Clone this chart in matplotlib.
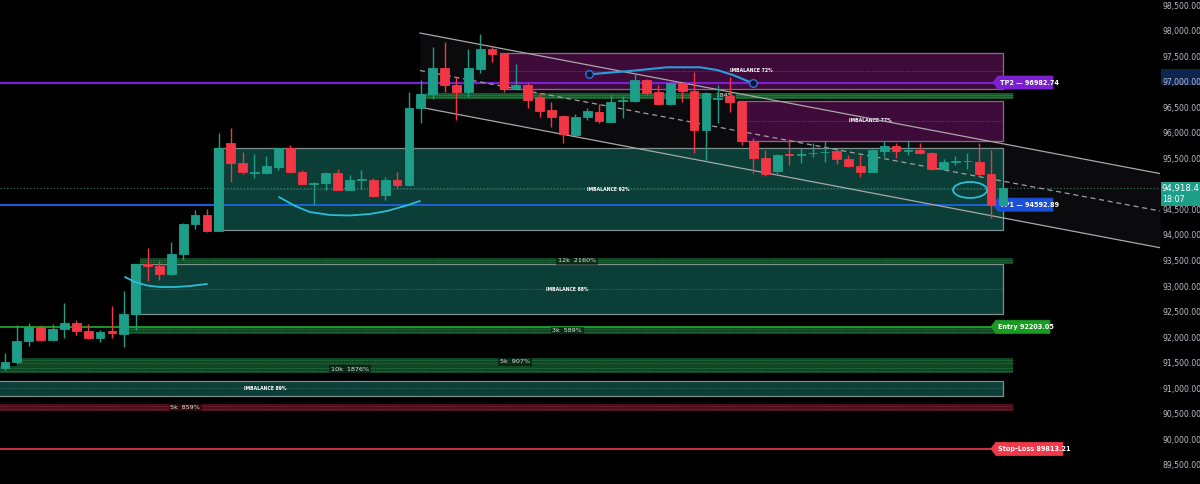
import matplotlib
matplotlib.use("Agg")
import matplotlib.pyplot as plt
from matplotlib.patches import Rectangle, Ellipse, Polygon
import numpy as np

# ---------------- data ----------------
opens = [91400, 91510, 91920, 92200, 91940, 92160, 92280, 92120, 91990, 92120,
         92060, 92450, 93440, 93390, 93230, 93630, 94220, 94400, 94080, 95790,
         95410, 95220, 95220, 95320, 95700, 95240, 95000, 95010, 95210, 94880,
         95080, 95080, 94780, 95070, 94980, 96480, 96750, 97260, 96930, 96790,
         97250, 97640, 97540, 96870, 96930, 96690, 96440, 96330, 95960, 96300,
         96410, 96220, 96630, 96620, 97030, 96800, 96560, 96970, 96820, 96050,
         96670, 96720, 96610, 95830, 95510, 95260, 95580, 95570, 95600, 95620,
         95650, 95490, 95350, 95240, 95640, 95740, 95650, 95660, 95610, 95290,
         95430, 95440, 95430, 95190, 94590]
highs = [91690, 92240, 92280, 92240, 92260, 92670, 92340, 92260, 92140, 92600,
         92900, 93440, 93740, 93490, 93860, 94230, 94490, 94500, 95990, 96090,
         95620, 95580, 95550, 95710, 95770, 95270, 95030, 95240, 95300, 95170,
         95270, 95110, 95140, 95240, 96800, 97030, 97670, 97780, 97100, 97640,
         97930, 97700, 97560, 97350, 96970, 96770, 96610, 96350, 96360, 96480,
         96560, 96740, 96710, 97160, 97050, 96930, 96980, 97000, 97180, 96790,
         96930, 97100, 96620, 95890, 95660, 95590, 95870, 95700, 95800, 95840,
         95680, 95560, 95560, 95680, 95830, 95790, 95850, 95790, 95620, 95480,
         95550, 95600, 95790, 95660, 94940]
lows = [91360, 91470, 91830, 91920, 91920, 91980, 92040, 91970, 91910, 91980,
        91810, 92140, 93090, 93120, 93210, 93510, 94120, 94060, 94070, 95040,
        95190, 95110, 95190, 95280, 95210, 94990, 94590, 94870, 94870, 94870,
        94890, 94740, 94680, 94910, 94960, 96190, 96670, 96800, 96250, 96690,
        97160, 97390, 96800, 96860, 96490, 96300, 96120, 95790, 95950, 96250,
        96190, 96210, 96280, 96610, 96740, 96540, 96540, 96610, 95600, 95470,
        96190, 96410, 95760, 95210, 95150, 95190, 95370, 95400, 95530, 95430,
        95390, 95320, 95140, 95230, 95530, 95500, 95570, 95580, 95270, 95270,
        95370, 95290, 95150, 94330, 94570]
closes = [91510, 91920, 92200, 91940, 92160, 92280, 92120, 91980, 92110, 92080,
          92450, 93430, 93390, 93230, 93630, 94210, 94400, 94080, 95710, 95400,
          95230, 95240, 95340, 95700, 95230, 95000, 95020, 95210, 94880, 95070,
          95100, 94760, 95070, 94980, 96490, 96760, 97270, 96930, 96790, 97260,
          97640, 97540, 96870, 96930, 96640, 96430, 96310, 95970, 96310, 96430,
          96230, 96610, 96640, 97030, 96780, 96560, 96970, 96820, 96050, 96770,
          96680, 96610, 95830, 95500, 95190, 95570, 95560, 95590, 95610, 95630,
          95480, 95340, 95240, 95660, 95740, 95640, 95660, 95600, 95290, 95420,
          95440, 95450, 95190, 94590, 94918.4]
last_price = 94918.4
last_time = "18:07"

tp2 = 96982.74
tp1 = 94592.89
entry = 92203.05
stop = 89813.21

# 95,000 is hidden behind the live-price label in the reference
y_ticks = [v for v in range(89500, 98501, 500) if v != 95000]

imb_labels = ["IMBALANCE 92%", "IMBALANCE 88%", "IMBALANCE 89%", "IMBALANCE 72%", "IMBALANCE 77%"]
imb_low = [94090, 92450, 90850, 96860, 95840]
imb_high = [95705, 93430, 91140, 97560, 96620]
imb_start = [17.6, 10.6, -40.2, 41.7, 61.7]
imb_end = [84.0, 84.0, 84.0, 84.0, 84.0]
imb_kind = ["teal", "teal", "teal", "purple", "purple"]

band_labels = ["12k  2160%", "3k  589%", "5k  907%", "10k  1876%", "7k  784%", "5k  859%"]
band_low = [93432, 92061, 91440, 91290, 96661, 90555]
band_high = [93549, 92189, 91590, 91440, 96778, 90692]
band_start = [11.4, 9.8, 1.0, -26.8, 35.4, -54.5]
band_end = [84.85, 84.85, 84.85, 84.85, 84.85, 84.85]
band_kind = ["g", "g", "g", "g", "g2", "r"]

chan_x = [34.93, 97.22]
chan_upper = [97952, 95201]
chan_mid = [97218, 94469]
chan_lower = [96500, 93750]

curve1_x = [23.06, 24.41, 25.67, 27.36, 29.04, 30.72, 32.15, 33.67, 34.93]
curve1_y = [94743, 94567, 94449, 94390, 94381, 94410, 94469, 94567, 94664]
curve2_x = [10.1, 10.94, 11.95, 13.05, 14.31, 15.57, 17.0]
curve2_y = [93177, 93079, 93011, 92981, 92981, 93001, 93040]
curve3_x = [49.16, 52.86, 55.72, 58.5, 59.93, 61.28, 62.96]
curve3_y = [97144, 97214, 97281, 97281, 97228, 97130, 96968]
ellipse_center = (81.23, 94880)

# ---------------- figure ----------------
W, H, DPI = 1200, 484, 100
fig = plt.figure(figsize=(W / DPI, H / DPI), dpi=DPI, facecolor="black")
AX_W = 1160
ax = fig.add_axes([0, 0, AX_W / W, 1])
ax.set_facecolor("black")
xmin, xmax = -0.42, 97.22
ymin, ymax = 89126, 98598
ax.set_xlim(xmin, xmax)
ax.set_ylim(ymin, ymax)
dx = (xmax - xmin) / AX_W   # data per pixel x
dy = (ymax - ymin) / H      # data per pixel y

for s in ax.spines.values():
    s.set_visible(False)
ax.set_xticks([])
ax.yaxis.tick_right()
ax.set_yticks(y_ticks)
ax.set_yticklabels([f"{v:,.2f}" for v in y_ticks])
ax.tick_params(axis="y", length=0, pad=2.0, labelsize=5.6, labelcolor="#b8bcc6")

GREEN = "#1e9e88"
RED = "#f23645"

# channel fill
ax.fill_between(chan_x, chan_lower, chan_upper, color="#a0a8c0", alpha=0.07, lw=0, zorder=0.5)

# imbalance boxes
for lab, lo, hi, x0, x1, kind in zip(imb_labels, imb_low, imb_high, imb_start, imb_end, imb_kind):
    if kind == "teal":
        fc, ec = "#0a3e37", "#7d8f8c"
    else:
        fc, ec = "#3e0a39", "#8a6a86"
    ax.add_patch(Rectangle((x0, lo), x1 - x0, hi - lo, facecolor=fc, edgecolor=ec, lw=0.9, zorder=1))
    mid = (lo + hi) / 2
    ax.plot([x0, x1], [mid, mid], ls=(0, (1, 1.5)), color="#9aa0a0", lw=0.5, alpha=0.6, zorder=1.1)
    ax.text((x0 + x1) / 2, mid, lab, color="white", fontsize=3.3, fontweight="bold",
            ha="center", va="center", zorder=2)

# liquidity bands
for lab, lo, hi, x0, x1, kind in zip(band_labels, band_low, band_high, band_start, band_end, band_kind):
    if kind == "g":
        fc, dc = "#0f4623", "#3a9a55"
    elif kind == "g2":
        fc, dc = "#145a2a", "#45b060"
    else:
        fc, dc = "#4a0f18", "#b03545"
    ax.add_patch(Rectangle((x0, lo), x1 - x0, hi - lo, facecolor=fc, edgecolor="none", zorder=1.3))
    for f in (0.3, 0.7):
        yv = lo + (hi - lo) * f
        ax.plot([x0, x1], [yv, yv], ls=(0, (0.6, 1.0)), color=dc, lw=0.7, alpha=0.8, zorder=1.35)
    ax.text((x0 + x1) / 2, (lo + hi) / 2, lab, color="#e8e8e8", fontsize=4.6,
            ha="center", va="center", zorder=2.5,
            bbox=dict(facecolor="black", alpha=0.45, edgecolor="none", pad=1.2))

# current price dotted line
ax.axhline(last_price, color="#4c9a8e", ls=(0, (1, 2)), lw=0.8, alpha=0.8, zorder=1.5)

# horizontal target lines
tip_x = 83.16
ax.plot([xmin, tip_x], [tp2, tp2], color="#7b1fd1", lw=1.6, zorder=2.2)
ax.plot([xmin, tip_x], [tp1, tp1], color="#1f5fd6", lw=1.4, zorder=2.2)
ax.plot([xmin, tip_x - 0.2], [entry, entry], color="#1fae2a", lw=1.2, zorder=2.2)
ax.plot([xmin, tip_x - 0.2], [stop, stop], color="#f0394a", lw=1.2, zorder=2.2)


def tag(xt, price, text, color, width_px):
    h = 6.5
    pts = [(xt, price), (xt + 5 * dx, price + h * dy), (xt + width_px * dx, price + h * dy),
           (xt + width_px * dx, price - h * dy), (xt + 5 * dx, price - h * dy)]
    ax.add_patch(Polygon(pts, closed=True, facecolor=color, edgecolor=color, lw=0.6,
                         joinstyle="round", zorder=2.6))
    ax.text(xt + 7 * dx, price, text, color="white", fontsize=4.7, fontweight="bold",
            ha="left", va="center", zorder=2.7)


tag(tip_x, tp2, "TP2 \u2014 96982.74", "#7b1fd1", 60)
tag(tip_x, tp1, "TP1 \u2014 94592.89", "#1a4fd8", 60)
tag(tip_x - 0.17, entry, "Entry 92203.05", "#1a9c22", 59)
tag(tip_x - 0.17, stop, "Stop-Loss 89813.21", "#f0394a", 72)

# channel lines
ax.plot(chan_x, chan_upper, color="#a8a8a8", lw=0.9, zorder=2.9)
ax.plot(chan_x, chan_lower, color="#a8a8a8", lw=0.9, zorder=2.9)
ax.plot(chan_x, chan_mid, color="#a0a0a0", lw=0.9, ls=(0, (4, 3)), zorder=2.9)

# candles
idx = np.arange(len(opens))
o = np.array(opens); c = np.array(closes); hi_ = np.array(highs); lo_ = np.array(lows)
cols = [GREEN if cc >= oo else RED for oo, cc in zip(o, c)]
ax.vlines(idx, lo_, hi_, colors=cols, lw=1.0, zorder=3)
ax.bar(idx, np.abs(c - o), bottom=np.minimum(o, c), width=0.74, color=cols,
       edgecolor=cols, lw=0.6, zorder=3.1)

# hand drawings
ax.plot(curve1_x, curve1_y, color="#2bbdd6", lw=1.3, zorder=4, solid_capstyle="round")
ax.plot(curve2_x, curve2_y, color="#2bbdd6", lw=1.3, zorder=4, solid_capstyle="round")
ax.plot(curve3_x, curve3_y, color="#2a9ed8", lw=1.5, zorder=4, solid_capstyle="round")
ax.plot([curve3_x[0], curve3_x[-1]], [curve3_y[0], curve3_y[-1]], ls="none", marker="o",
        ms=5.5, mfc="#0b1630", mec="#3b6fd0", mew=1.0, zorder=4.1)
ax.add_patch(Ellipse(ellipse_center, 34 * dx, 16 * dy, facecolor="none",
                     edgecolor="#2bbdd6", lw=1.3, zorder=4))

# right price scale decorations
fig.add_artist(Rectangle((1161 / W, 1 - 85 / H), 39 / W, 16 / H, transform=fig.transFigure,
                         facecolor="#0d2350", edgecolor="none", zorder=-1))
fig.add_artist(Rectangle((1161 / W, 1 - 206 / H), 39 / W, 24 / H, transform=fig.transFigure,
                         facecolor=GREEN, edgecolor="none", zorder=5))
fig.text(1162 / W, 1 - 189 / H, f"{last_price:,.1f}", color="white", fontsize=6.2,
         ha="left", va="center", zorder=6)
fig.text(1162 / W, 1 - 200 / H, last_time, color="white", fontsize=5.8,
         ha="left", va="center", zorder=6)

fig.savefig("out.png", dpi=DPI, facecolor="black")
